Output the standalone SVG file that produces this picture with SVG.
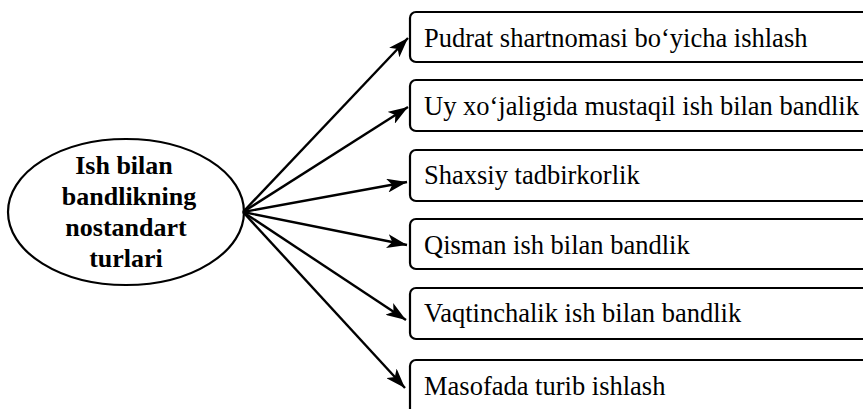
<svg xmlns="http://www.w3.org/2000/svg" width="863" height="409" viewBox="0 0 863 409">
<style>
.box{fill:#fff;stroke:#000;stroke-width:2.2}
.lbl{font-family:"Liberation Serif","Times New Roman",serif;font-size:26.5px;fill:#000}
.ctr{font-family:"Liberation Serif","Times New Roman",serif;font-size:26px;font-weight:bold;fill:#000;text-anchor:middle}
.con{stroke:#000;stroke-width:2.4;fill:none}
</style>
<defs>
<marker id="ah" markerUnits="userSpaceOnUse" markerWidth="22" markerHeight="14" refX="20" refY="7" orient="auto" viewBox="0 0 22 14">
<path d="M0,0 L20,7 L0,14 L5,7 Z" fill="#000"/>
</marker>
</defs>
<rect width="863" height="409" fill="#fff"/>
<g id="center">
<ellipse cx="126" cy="212" rx="118" ry="73" class="box"/>
<text class="ctr" x="124" y="174">Ish bilan</text>
<text class="ctr" x="129" y="205">bandlikning</text>
<text class="ctr" x="126" y="236">nostandart</text>
<text class="ctr" x="126" y="267">turlari</text>
</g>
<g id="connectors">
<line class="con" x1="243" y1="212" x2="408" y2="38" marker-end="url(#ah)"/>
<line class="con" x1="243" y1="212" x2="408" y2="107" marker-end="url(#ah)"/>
<line class="con" x1="243" y1="212" x2="407" y2="182" marker-end="url(#ah)"/>
<line class="con" x1="243" y1="212" x2="407" y2="245" marker-end="url(#ah)"/>
<line class="con" x1="243" y1="212" x2="406" y2="320" marker-end="url(#ah)"/>
<line class="con" x1="243" y1="212" x2="405" y2="388" marker-end="url(#ah)"/>
</g>
<g id="n1"><rect class="box" x="410" y="12" width="470" height="50" rx="6"/><text class="lbl" x="424" y="47">Pudrat shartnomasi bo‘yicha ishlash</text></g>
<g id="n2"><rect class="box" x="410" y="80" width="470" height="51" rx="6"/><text class="lbl" x="424" y="115">Uy xo‘jaligida mustaqil ish bilan bandlik</text></g>
<g id="n3"><rect class="box" x="410" y="150" width="470" height="51" rx="6"/><text class="lbl" x="424" y="184">Shaxsiy tadbirkorlik</text></g>
<g id="n4"><rect class="box" x="410" y="219" width="470" height="50" rx="6"/><text class="lbl" x="424" y="254">Qisman ish bilan bandlik</text></g>
<g id="n5"><rect class="box" x="410" y="288" width="470" height="51" rx="6"/><text class="lbl" x="424" y="322">Vaqtinchalik ish bilan bandlik</text></g>
<g id="n6"><rect class="box" x="410" y="360" width="470" height="60" rx="6"/><text class="lbl" x="424" y="395">Masofada turib ishlash</text></g>
</svg>
